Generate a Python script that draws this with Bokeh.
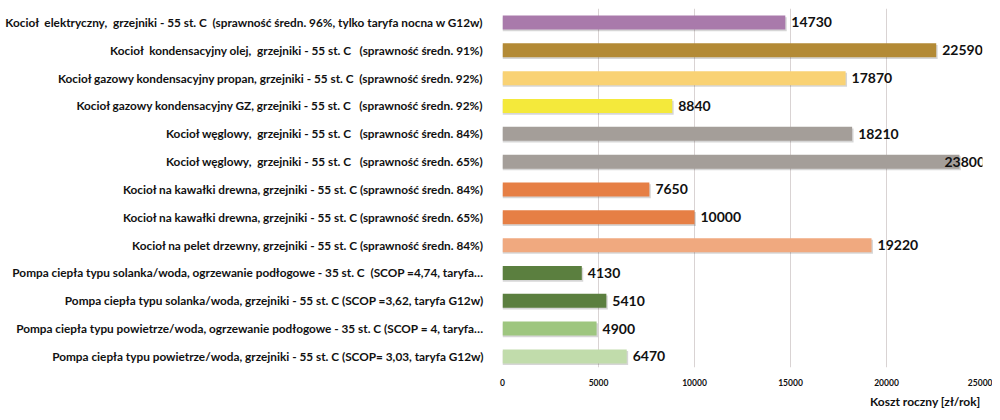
from bokeh.plotting import figure
from bokeh.models import Range1d, FixedTicker, ColumnDataSource, Title
from bokeh.core.properties import value
from bokeh.embed import file_html
from bokeh.resources import INLINE

NB = "\u00a0"
labels = [
    "Kocioł " + NB + "elektryczny, " + NB + "grzejniki - 55 st. C " + NB + "(sprawność średn. 96%, tylko taryfa nocna w G12w)",
    "Kocioł " + NB + "kondensacyjny olej, " + NB + "grzejniki - 55 st. C " + NB + NB + "(sprawność średn. 91%)",
    "Kocioł gazowy kondensacyjny propan, grzejniki - 55 st. C " + NB + "(sprawność średn. 92%)",
    "Kocioł gazowy kondensacyjny GZ, grzejniki - 55 st. C " + NB + NB + "(sprawność średn. 92%)",
    "Kocioł węglowy, " + NB + "grzejniki - 55 st. C " + NB + NB + "(sprawność średn. 84%)",
    "Kocioł węglowy, " + NB + "grzejniki - 55 st. C " + NB + NB + "(sprawność średn. 65%)",
    "Kocioł na kawałki drewna, grzejniki - 55 st. C (sprawność średn. 84%)",
    "Kocioł na kawałki drewna, grzejniki - 55 st. C (sprawność średn. 65%)",
    "Kocioł na pelet drzewny, grzejniki - 55 st. C (sprawność średn. 84%)",
    "Pompa ciepła typu solanka/woda, ogrzewanie podłogowe - 35 st. C " + NB + "(SCOP =4,74, taryfa…",
    "Pompa ciepła typu solanka/woda, grzejniki - 55 st. C (SCOP =3,62, taryfa G12w)",
    "Pompa ciepła typu powietrze/woda, ogrzewanie podłogowe - 35 st. C (SCOP = 4, taryfa…",
    "Pompa ciepła typu powietrze/woda, grzejniki - 55 st. C (SCOP= 3,03, taryfa G12w)",
]
values = [14730, 22590, 17870, 8840, 18210, 23800, 7650, 10000, 19220, 4130, 5410, 4900, 6470]
colors = ["#a97aab", "#b38a35", "#f9d274", "#f4e93b", "#a49e99", "#a49e99", "#e67f45",
          "#e67f45", "#f0a97f", "#5b7f3f", "#5b7f3f", "#9ec67f", "#c1dcab"]
x_ticks = [0, 5000, 10000, 15000, 20000, 25000]
x_title = "Koszt roczny [zł/rok]"

FONT = "Lato"
X_MAX = 25000

pos = list(range(len(labels)))
src = ColumnDataSource(dict(
    y=pos, v=values, c=colors, t=[str(v) for v in values],
    sy=[i + 0.06 for i in pos], sv=[v + 0.003 * X_MAX for v in values],
    off=[6 if v < 0.92 * X_MAX else -15 for v in values],
))

p = figure(width=992, height=412, output_backend="svg", toolbar_location=None,
           x_range=Range1d(0, X_MAX), y_range=Range1d(12.397, -0.503),
           min_border_left=502, min_border_right=10, min_border_top=8, min_border_bottom=45)
p.outline_line_color = None
p.background_fill_color = "white"
p.border_fill_color = "white"

p.ygrid.grid_line_color = None
p.xgrid.grid_line_color = "#d9d3d3"
p.xgrid.ticker = FixedTicker(ticks=x_ticks)

# soft drop shadow, then bars
p.hbar(y="sy", right="sv", left=0, height=0.503, fill_color="#000000", fill_alpha=0.16,
       line_color=None, source=src)
p.hbar(y="y", right="v", left=0, height=0.503, fill_color="c", line_color=None, source=src)
p.text(x="v", y="y", text="t", x_offset="off", text_baseline="middle", text_align="left",
       text_font=value(FONT), text_font_style="bold", text_font_size="14px",
       text_color="#111111", source=src)

xa = p.xaxis[0]
xa.ticker = FixedTicker(ticks=x_ticks)
xa.axis_line_color = None
xa.major_tick_line_color = None
xa.minor_tick_line_color = None
xa.major_label_standoff = 5
xa.major_label_text_font = FONT
xa.major_label_text_font_style = "bold"
xa.major_label_text_font_size = "8.5px"
xa.major_label_text_color = "#111111"

t = Title(text=x_title, align="right", text_font=FONT, text_font_style="bold",
          text_font_size="12px", text_color="#111111", standoff=7, offset=2)
p.add_layout(t, "below")

ya = p.yaxis[0]
ya.ticker = FixedTicker(ticks=pos)
ya.major_label_overrides = {i: l for i, l in enumerate(labels)}
ya.axis_line_color = None
ya.major_tick_line_color = None
ya.minor_tick_line_color = None
ya.major_label_standoff = 13
ya.major_label_text_font = FONT
ya.major_label_text_font_style = "bold"
ya.major_label_text_font_size = "11.8px"
ya.major_label_text_color = "#111111"

open("out.html", "w").write(file_html(p, INLINE))
